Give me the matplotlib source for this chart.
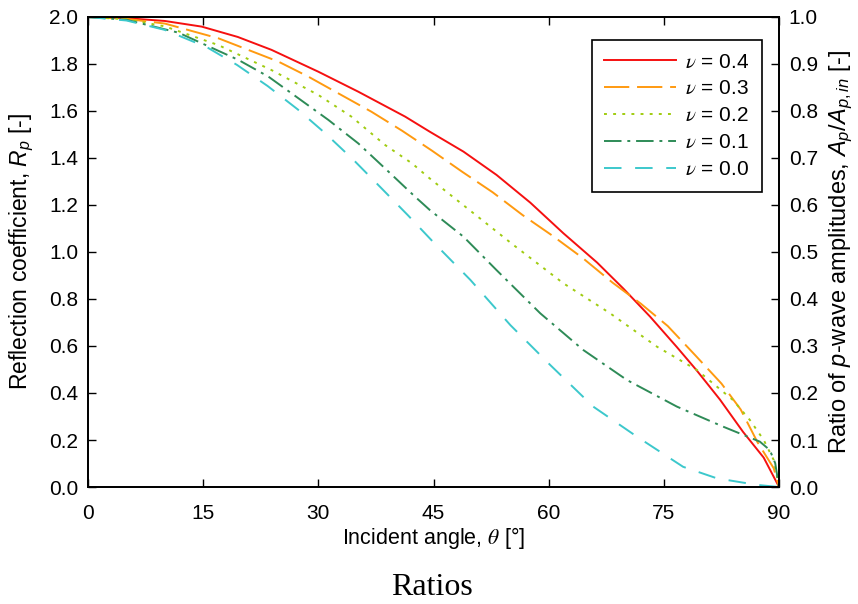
"""Reflection coefficient R_p vs incident angle for several Poisson ratios."""
import matplotlib
matplotlib.use("Agg")
import matplotlib.pyplot as plt

plt.rcParams["font.family"] = ["Liberation Sans", "DejaVu Sans"]
plt.rcParams["mathtext.fontset"] = "custom"
plt.rcParams["mathtext.rm"] = "Liberation Sans"
plt.rcParams["mathtext.it"] = "Liberation Sans:italic"

# ── Data ────────────────────────────────────────────────────────────────────
theta_04 = [0, 5, 10, 14.8, 19.5, 23.9, 30.0, 35.2, 41.3, 44.5, 48.9, 53.2,
            57.6, 61.9, 66.3, 69.7, 73.2, 76.7, 79.3, 82.3, 85.3, 88.0, 90]
rp_04 = [2.0, 1.995, 1.983, 1.959, 1.915, 1.860, 1.767, 1.682, 1.576, 1.512,
         1.427, 1.328, 1.210, 1.080, 0.955, 0.845, 0.725, 0.595, 0.495, 0.372,
         0.235, 0.125, 0.0]

theta_03 = [0, 5, 10, 17.0, 24.8, 28.7, 32.6, 36.9, 40.9, 44.8, 48.7, 52.7,
            56.6, 60.5, 64.4, 68.3, 72.0, 75.5, 79.1, 82.5, 85.0, 87.2, 89.3, 90]
rp_03 = [2.0, 1.992, 1.972, 1.909, 1.810, 1.746, 1.675, 1.597, 1.516, 1.431,
         1.342, 1.254, 1.157, 1.069, 0.975, 0.870, 0.780, 0.685, 0.56, 0.44,
         0.33, 0.19, 0.08, 0.0]

theta_02 = [0, 5, 10, 17.0, 23.9, 30.0, 34.3, 38.7, 42.2, 44.5, 50.2, 55.4,
            61.9, 68.0, 74.1, 79.3, 84.0, 86.2, 88.0, 89.3, 90]
rp_02 = [2.0, 1.99, 1.96, 1.88, 1.774, 1.668, 1.576, 1.455, 1.377, 1.313,
         1.165, 1.030, 0.867, 0.739, 0.597, 0.498, 0.370, 0.285, 0.200, 0.115,
         0.0]

theta_01 = [0, 5, 11.8, 19.6, 23.5, 27.4, 31.3, 35.2, 38.9, 42.6, 44.5, 48.9,
            53.2, 58.9, 64.5, 70.2, 76.7, 82.7, 87.5, 88.8, 89.5, 90]
rp_01 = [2.0, 1.988, 1.933, 1.817, 1.746, 1.654, 1.562, 1.462, 1.349, 1.235,
         1.179, 1.065, 0.923, 0.739, 0.583, 0.455, 0.342, 0.257, 0.193, 0.157,
         0.101, 0.0]

theta_00 = [0, 5, 10, 15.5, 19.4, 23.4, 27.3, 30.9, 34.6, 38.1, 41.7, 45.2,
            49.8, 55.0, 60.2, 65.8, 71.5, 77.5, 81.9, 87.1, 90]
rp_00 = [2.0, 1.985, 1.945, 1.871, 1.796, 1.706, 1.607, 1.505, 1.391, 1.275,
         1.155, 1.034, 0.881, 0.689, 0.519, 0.342, 0.214, 0.086, 0.037, 0.009,
         0.0]

labels = [r"$\nu$ = 0.4", r"$\nu$ = 0.3", r"$\nu$ = 0.2", r"$\nu$ = 0.1", r"$\nu$ = 0.0"]
x_ticks = [0, 15, 30, 45, 60, 75, 90]
left_ticks = [0.0, 0.2, 0.4, 0.6, 0.8, 1.0, 1.2, 1.4, 1.6, 1.8, 2.0]
right_ticks = [0.0, 0.1, 0.2, 0.3, 0.4, 0.5, 0.6, 0.7, 0.8, 0.9, 1.0]

# ── Figure ──────────────────────────────────────────────────────────────────
fig = plt.figure(figsize=(8.58, 6.04), dpi=100)
ax = fig.add_axes([0.1026, 0.1937, 0.8054, 0.7782])

ax.plot(theta_04, rp_04, color="#f51010", lw=1.4, label=labels[0])
ax.plot(theta_03, rp_03, color="#ff9a10", lw=1.4, dashes=(13, 4), label=labels[1])
ax.plot(theta_02, rp_02, color="#a0cc10", lw=1.4, dashes=(1.5, 3.2), label=labels[2])
ax.plot(theta_01, rp_01, color="#2e8b57", lw=1.4, dashes=(9, 3, 1.5, 3), label=labels[3])
ax.plot(theta_00, rp_00, color="#3cc8cc", lw=1.4, dashes=(9, 7), label=labels[4])

ax.set_xlim(0, 90)
ax.set_ylim(0, 2.0)
ax.set_xticks(x_ticks)
ax.set_yticks(left_ticks)
ax.set_yticklabels([f"{v:.1f}" for v in left_ticks])
ax.tick_params(axis="y", direction="in", length=6, width=1, labelsize=15, pad=7)
ax.tick_params(axis="x", direction="in", length=6, width=1, labelsize=15,
               top=True, pad=12)

ax2 = ax.twinx()
ax2.set_ylim(0, 1.0)
ax2.set_yticks(right_ticks)
ax2.set_yticklabels([f"{v:.1f}" for v in right_ticks])
ax2.tick_params(direction="in", length=6, width=1, labelsize=15, pad=7)

for a in (ax, ax2):
    for s in a.spines.values():
        s.set_linewidth(1.3)

xl = ax.set_xlabel(r"Incident angle, $\theta$ [°]", fontsize=15.5, labelpad=2)
xl.set_math_fontfamily("stix")
ax.set_ylabel(r"Reflection coefficient, $R_p$ [-]", fontsize=16.5)
ax.yaxis.set_label_coords(-0.075, 0.5)
ax2.set_ylabel(r"Ratio of $p$-wave amplitudes, $A_p/A_{p,in}$ [-]", fontsize=17)
ax2.yaxis.set_label_coords(1.07, 0.5)

leg = ax.legend(loc="upper right", bbox_to_anchor=(0.975, 0.951), fontsize=15,
                borderaxespad=0, handlelength=3.45, handletextpad=0.45,
                borderpad=0.6, labelspacing=0.38, fancybox=False,
                framealpha=1, edgecolor="black")
leg.get_frame().set_linewidth(1.2)
for t in leg.get_texts():
    t.set_math_fontfamily("stix")

fig.text(0.503, 0.027, "Ratios", ha="center", va="center", fontsize=23,
         family="Liberation Serif")

fig.savefig("out.png", dpi=100)
